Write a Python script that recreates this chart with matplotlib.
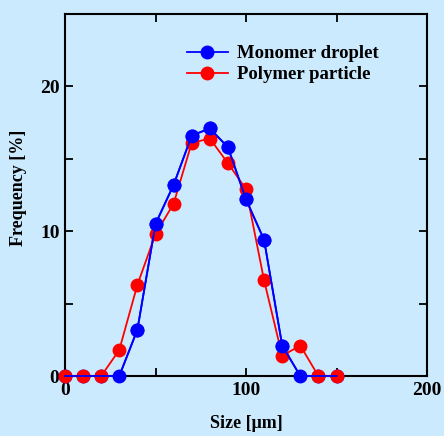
import matplotlib
matplotlib.use("Agg")
import matplotlib.pyplot as plt

# particle size classes [um] and frequencies [%]
size = [0, 10, 20, 30, 40, 50, 60, 70, 80, 90, 100, 110, 120, 130, 140, 150]
monomer = [0, 0, 0, 0, 3.2, 10.5, 13.2, 16.6, 17.1, 15.8, 12.2, 9.4, 2.1, 0, 0, 0]
polymer = [0, 0, 0, 1.8, 6.3, 9.8, 11.9, 16.1, 16.4, 14.7, 12.9, 6.6, 1.4, 2.1, 0, 0]

BG = "#cceafd"
plt.rcParams["font.family"] = ["Liberation Serif", "DejaVu Serif"]
plt.rcParams["font.weight"] = "bold"

fig = plt.figure(figsize=(4.44, 4.36), dpi=100, facecolor=BG)
ax = fig.add_axes([65 / 444, 60 / 436, 362 / 444, 362 / 436], facecolor=BG)

# blue line under the red series, blue markers on top where they stand apart
style = dict(lw=1.3, marker="o", ms=9, clip_on=False)
ax.plot(size, monomer, color="#0000ff", zorder=3, **style)
ax.plot(size, polymer, color="#ff0000", zorder=4, label="Polymer particle", **style)
ax.plot(size, monomer, color="#0000ff", zorder=5,
        markevery=[v > 0 for v in monomer], label="Monomer droplet", **style)

ax.set_xlim(0, 200)
ax.set_ylim(0, 25)
ax.set_xticks([0, 50, 100, 150, 200])
ax.set_xticklabels(["0", "", "100", "", "200"])
ax.set_yticks([0, 5, 10, 15, 20, 25])
ax.set_yticklabels(["0", "", "10", "", "20", ""])
ax.tick_params(direction="in", length=6, width=1.3, top=True, right=True,
               labelsize=14, pad=4)
for lbl in ax.get_xticklabels() + ax.get_yticklabels():
    lbl.set_fontweight("bold")
for spine in ax.spines.values():
    spine.set_linewidth(1.5)

ax.set_xlabel("Size [μm]", fontsize=13, fontweight="bold", labelpad=12)
ax.set_ylabel("Frequency [%]", fontsize=13, fontweight="bold")
ax.yaxis.set_label_coords(-0.105, 0.52)

handles, labels = ax.get_legend_handles_labels()
ax.legend(handles[::-1], labels[::-1], loc="upper left",
          bbox_to_anchor=(0.29, 0.96), frameon=False,
          prop={"size": 13.5, "weight": "bold"}, handlelength=2.2,
          handletextpad=0.5, labelspacing=0.2)

fig.savefig("out.png", dpi=100, facecolor=BG)
